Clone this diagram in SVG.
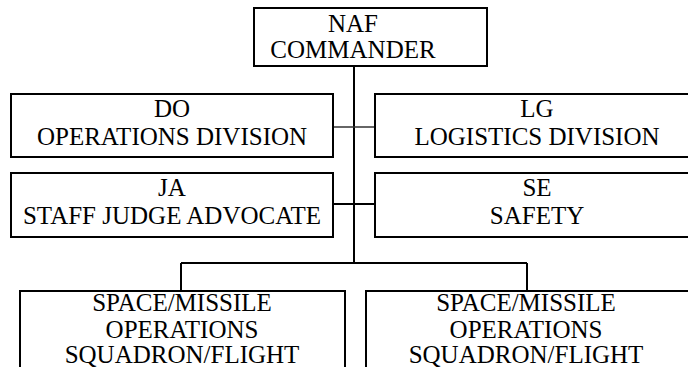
<svg xmlns="http://www.w3.org/2000/svg" width="688" height="367" viewBox="0 0 688 367">
  <style>
    .box { fill: #ffffff; stroke: #000000; stroke-width: 2; }
    .lbl { font-family: 'Liberation Serif', 'Times New Roman', serif; font-size: 25px; fill: #000000; text-anchor: middle; }
    .wire { fill: none; stroke: #000000; stroke-width: 2; }
    .thin { stroke-width: 1.3; stroke: #333333; }
  </style>
  <rect width="688" height="367" fill="#ffffff"/>

  <!-- connectors -->
  <g id="connectors">
    <path class="wire" d="M354 66 V263"/>
    <path class="wire thin" d="M333 127 H375"/>
    <path class="wire" d="M333 204 H375"/>
    <path class="wire" d="M181 263 H527 M181 263 V291 M527 263 V291"/>
  </g>

  <g id="naf-commander">
    <rect class="box" x="254" y="8" width="233" height="58"/>
    <text class="lbl" x="353" y="32">NAF</text>
    <text class="lbl" x="353" y="58">COMMANDER</text>
  </g>

  <g id="do-operations">
    <rect class="box" x="11" y="94" width="322" height="63"/>
    <text class="lbl" x="172" y="117">DO</text>
    <text class="lbl" x="172" y="145">OPERATIONS DIVISION</text>
  </g>

  <g id="lg-logistics">
    <rect class="box" x="375" y="94" width="322" height="63"/>
    <text class="lbl" x="537" y="117">LG</text>
    <text class="lbl" x="537" y="145">LOGISTICS DIVISION</text>
  </g>

  <g id="ja-judge-advocate">
    <rect class="box" x="11" y="173" width="322" height="64"/>
    <text class="lbl" x="172" y="196">JA</text>
    <text class="lbl" x="172" y="224">STAFF JUDGE ADVOCATE</text>
  </g>

  <g id="se-safety">
    <rect class="box" x="375" y="173" width="322" height="64"/>
    <text class="lbl" x="537" y="196">SE</text>
    <text class="lbl" x="537" y="224">SAFETY</text>
  </g>

  <g id="squadron-left">
    <rect class="box" x="20" y="291" width="325" height="90"/>
    <text class="lbl" x="182" y="311">SPACE/MISSILE</text>
    <text class="lbl" x="182" y="338">OPERATIONS</text>
    <text class="lbl" x="182" y="363">SQUADRON/FLIGHT</text>
  </g>

  <g id="squadron-right">
    <rect class="box" x="366" y="291" width="325" height="90"/>
    <text class="lbl" x="526" y="311">SPACE/MISSILE</text>
    <text class="lbl" x="526" y="338">OPERATIONS</text>
    <text class="lbl" x="526" y="363">SQUADRON/FLIGHT</text>
  </g>
</svg>
